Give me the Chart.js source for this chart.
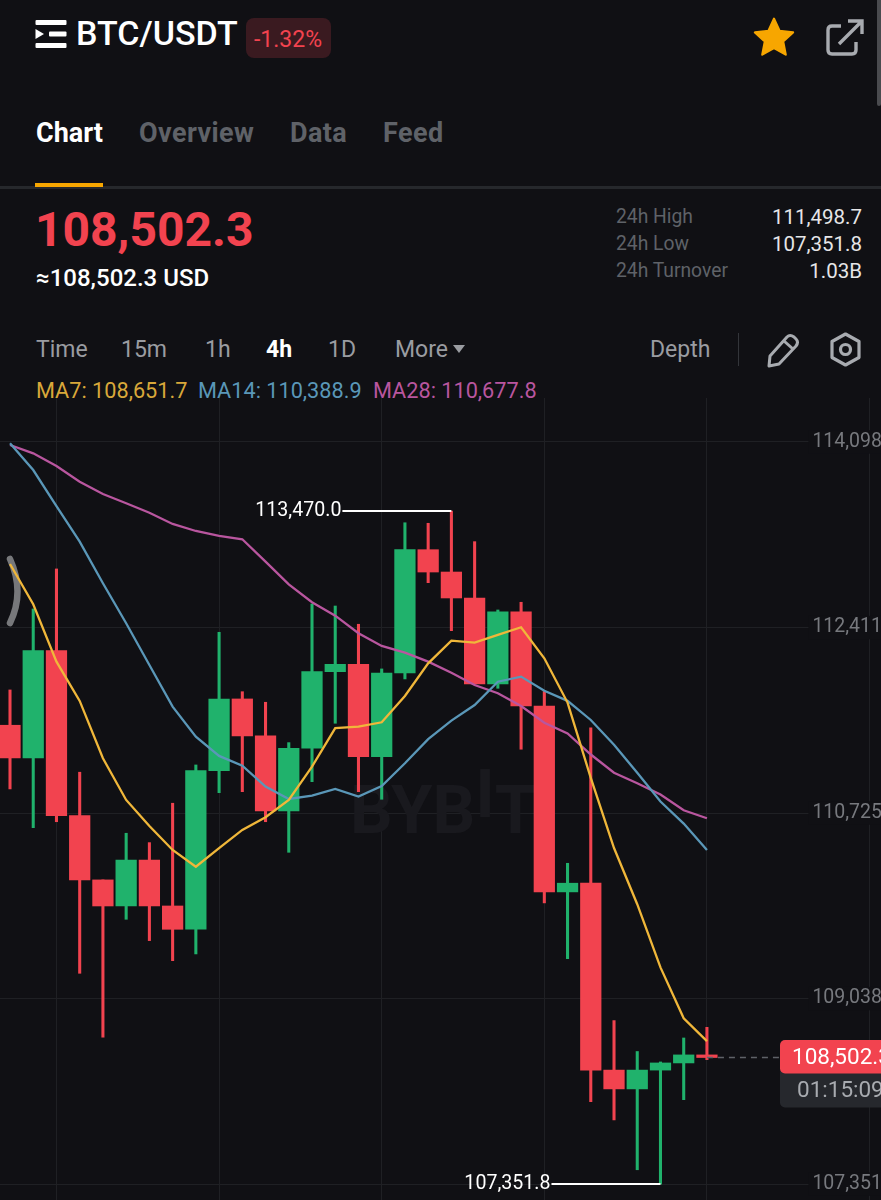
<!DOCTYPE html>
<html>
<head>
<meta charset="utf-8">
<script src="https://cdn.jsdelivr.net/npm/chart.js@4"></script>
<style>
  html, body { margin: 0; padding: 0; background: #101014; }
  body { width: 881px; height: 1200px; overflow: hidden; position: relative; font-family: Roboto, sans-serif; color: #fff; }
  .t { position: absolute; white-space: nowrap; line-height: 1; }
  .tab { font-size: 27px; font-weight: 700; letter-spacing: .4px; color: #5f6268; top: 120px; }
  .tf { font-size: 23px; color: #9a9ca1; top: 338px; }
  .ma { font-size: 21.7px; top: 380px; }
  #wrap { position: absolute; left: 0; top: 398px; width: 890px; height: 802px; }
</style>
</head>
<body>
<svg style="position:absolute;left:35px;top:20px" width="32" height="29" viewBox="0 0 32 29">
  <rect x="0.5" y="0" width="31" height="5" rx="1" fill="#fff"/>
  <rect x="14" y="11.5" width="17.5" height="5" rx="1" fill="#fff"/>
  <rect x="0.5" y="23" width="31" height="5" rx="1" fill="#fff"/>
  <path d="M0.5 9 L9 14 L0.5 19 Z" fill="#fff"/>
</svg>
<div class="t" style="left:76px;top:16px;font-size:34px;font-weight:500">BTC/USDT</div>
<div style="position:absolute;left:246px;top:18px;width:85px;height:40px;border-radius:8px;background:#3a1a20"></div>
<div class="t" style="left:254px;top:28px;font-size:23px;color:#f2434f">-1.32%</div>
<svg style="position:absolute;left:752px;top:15px" width="44" height="44" viewBox="0 0 24 24">
  <path d="M12 2 L15 8.6 L22.4 9.5 L17 14.4 L18.4 21.6 L12 18 L5.6 21.6 L7 14.4 L1.6 9.5 L9 8.6 Z" fill="#f7a600" stroke="#f7a600" stroke-width="1.2" stroke-linejoin="round"/>
</svg>
<svg style="position:absolute;left:824px;top:18px" width="42" height="40" viewBox="0 0 42 40" fill="none" stroke="#a8abb0" stroke-width="3.4">
  <path d="M17 8 H8 Q4 8 4 12 V32 Q4 36 8 36 H28 Q32 36 32 32 V24"/>
  <path d="M15 26 L37 4 M24 3 H38 V16"/>
</svg>
<div style="position:absolute;left:877px;top:0;width:4px;height:106px;border-radius:0 0 2px 2px;background:#4a4b4f"></div>
<div class="t tab" style="left:36px;color:#fff;letter-spacing:0">Chart</div>
<div class="t tab" style="left:139px">Overview</div>
<div class="t tab" style="left:290px">Data</div>
<div class="t tab" style="left:383px">Feed</div>
<div style="position:absolute;left:0;top:186px;width:881px;height:3px;background:#26282c"></div>
<div style="position:absolute;left:35px;top:183px;width:68px;height:4px;background:#f7a600"></div>
<div class="t" style="left:35px;top:206px;font-size:48px;font-weight:700;color:#f2434f">108,502.3</div>
<div class="t" style="left:36px;top:266px;font-size:24px;font-weight:500">≈108,502.3 USD</div>
<div class="t" style="left:616px;top:207px;font-size:19.3px;color:#5f6268">24h High</div>
<div class="t" style="left:616px;top:234px;font-size:19.3px;color:#5f6268">24h Low</div>
<div class="t" style="left:616px;top:261px;font-size:19.3px;color:#5f6268">24h Turnover</div>
<div class="t" style="right:19px;top:207px;font-size:20.5px;color:#e6e6e8">111,498.7</div>
<div class="t" style="right:19px;top:234px;font-size:20.5px;color:#e6e6e8">107,351.8</div>
<div class="t" style="right:19px;top:261px;font-size:20.5px;color:#e6e6e8">1.03B</div>
<div class="t tf" style="left:36px">Time</div>
<div class="t tf" style="left:121px">15m</div>
<div class="t tf" style="left:205px">1h</div>
<div class="t tf" style="left:266px;font-weight:700;color:#fff">4h</div>
<div class="t tf" style="left:328px">1D</div>
<div class="t tf" style="left:395px">More</div>
<svg style="position:absolute;left:452px;top:344px" width="14" height="10"><path d="M1 1 H13 L7 9 Z" fill="#9a9ca1"/></svg>
<div class="t tf" style="left:650px">Depth</div>
<div style="position:absolute;left:738px;top:333px;width:1px;height:33px;background:#33353a"></div>
<svg style="position:absolute;left:766px;top:332px" width="34" height="36" viewBox="0 0 34 36" fill="none" stroke="#a8abb0" stroke-width="3" stroke-linejoin="round">
  <path d="M4 24 L21 5 Q24 2 28 5 L30 7 Q33 10 30 14 L13 32 L3 34 Z"/>
  <path d="M18 9 L27 17"/>
</svg>
<svg style="position:absolute;left:828px;top:331px" width="35" height="37" viewBox="0 0 35 37" fill="none" stroke="#a8abb0" stroke-width="3.2" stroke-linejoin="round">
  <path d="M17.5 3 L31 10.5 V26.5 L17.5 34 L4 26.5 V10.5 Z"/>
  <circle cx="17.5" cy="18.5" r="5"/>
</svg>
<div class="t ma" style="left:36px;color:#d9a83a">MA7: 108,651.7</div>
<div class="t ma" style="left:198px;color:#5a97b8">MA14: 110,388.9</div>
<div class="t ma" style="left:373px;color:#b9569f">MA28: 110,677.8</div>
<svg style="position:absolute;left:6px;top:554px" width="20" height="76" viewBox="0 0 20 76"><path d="M4 5 Q19 38 4 69" fill="none" stroke="#77787b" stroke-width="6.5" stroke-linecap="round"/></svg>
<div id="wrap"><canvas id="c"></canvas></div>
<script>
// candles, one 4h bar each
const candleIdx = [0,1,2,3,4,5,6,7,8,9,10,11,12,13,14,15,16,17,18,19,20,21,22,23,24,25,26,27,28,29,30];
const opens  = [111523,111226,112201,110701,110117,109880,110298,109880,109668,111110,111762,111426,110744,111314,112010,112077,111237,111998,113119,112916,112680,111898,112555,111698,110008,110087,108388,108217,108388,108453,108526];
const highs  = [111844,112580,112944,111096,110117,110541,110456,110814,111162,112368,111828,111732,111365,112625,112607,112441,112035,113364,113359,113470,113192,112571,112641,111830,110268,111498.7,108838,108557,108462,108680,108777];
const lows   = [110944,110592,110646,109268,108687,109759,109565,109383,109444,110910,110919,110646,110368,111010,111541,110919,110850,111944,112819,112383,111898,111859,111305,109908,109401,108100,107935,107482,107351.8,108119,108483];
const closes = [111226,112201,110701,110117,109880,110298,109880,109668,111110,111762,111426,110744,111314,112010,112077,111237,111998,113119,112916,112680,111898,112555,111698,110008,110087,108388,108217,108388,108453,108526,108502.3];
const ma7  = [112989,112623,112101,111744,111223,110844,110607,110389,110237,110405,110571,110687,110844,111146,111496,111510,111550,111789,112086,112292,112274,112344,112414,112132,111729,111044,110407,109896,109322,108859,108651.7];
const ma14 = [114086,113843,113516,113192,112814,112450,112071,111692,111419,111244,111156,110965,110853,110883,110944,110874,110971,111177,111396,111565,111707,111919,111965,111837,111745,111571,111346,111091,110830,110629,110388.9];
const ma28 = [114071,113995,113880,113737,113625,113541,113455,113353,113289,113244,113214,113010,112804,112641,112519,112359,112244,112183,112101,112001,111889,111814,111698,111546,111448,111257,111091,110996,110894,110750,110677.8];
const yTicks = [114098,112411,110725,109038,107351];
const xGrid = [2,9,16,23,30,37];
const lastPrice = 108502.3;
const countdown = "01:15:09";
const highMark = { i: 19, price: 113470.0, text: "113,470.0" };
const lowMark  = { i: 28, price: 107351.8, text: "107,351.8" };

const UP = "#20b26c", DOWN = "#f2434f", BG = "#101014";
const candleColor = candleIdx.map(i => closes[i] >= opens[i] ? UP : DOWN);

function line(label, arr, color) {
  return { type: "line", label, data: candleIdx.map(i => ({ x: i, y: arr[i] })), borderColor: color,
    borderWidth: 2.3, pointRadius: 0, tension: 0, order: 0 };
}

// marks that the library has no element for: labels, last price tag, watermark
const overlay = {
  id: "overlay",
  beforeDatasetsDraw(chart) {
    const ctx = chart.ctx;
    ctx.save();
    ctx.fillStyle = "#19191e";
    ctx.font = "bold 67px Roboto";
    ctx.textAlign = "left";
    ctx.textBaseline = "alphabetic";
    let wx = 350;
    ctx.fillText("BYB", wx, 435);
    wx += ctx.measureText("BYB").width;
    ctx.fillText("I", wx, 419);
    wx += ctx.measureText("I").width;
    ctx.fillText("T", wx, 435);
    ctx.restore();
  },
  afterDatasetsDraw(chart) {
    const { ctx, scales: { x, y } } = chart;
    ctx.save();
    ctx.font = "19.6px Roboto";
    ctx.textBaseline = "middle";
    ctx.lineWidth = 2;
    ctx.strokeStyle = "#fff";
    ctx.fillStyle = "#fff";
    for (const m of [highMark, lowMark]) {
      const px = x.getPixelForValue(m.i), py = y.getPixelForValue(m.price);
      ctx.beginPath();
      ctx.moveTo(px, py);
      ctx.lineTo(px - 109, py);
      ctx.stroke();
      ctx.textAlign = "right";
      ctx.fillText(m.text, px - 110, py);
    }
    const ly = y.getPixelForValue(lastPrice), lx = x.getPixelForValue(30);
    ctx.setLineDash([6, 5]);
    ctx.strokeStyle = "#5f6268";
    ctx.lineWidth = 1.5;
    ctx.beginPath();
    ctx.moveTo(lx, ly);
    ctx.lineTo(780, ly);
    ctx.stroke();
    ctx.setLineDash([]);
    ctx.fillStyle = "#26282d";
    ctx.beginPath();
    ctx.roundRect(780, ly + 10, 110, 40, 5);
    ctx.fill();
    ctx.fillStyle = DOWN;
    ctx.beginPath();
    ctx.roundRect(780, ly - 17.5, 110, 33.5, 5);
    ctx.fill();
    ctx.font = "22.5px Roboto";
    ctx.textAlign = "left";
    ctx.fillStyle = "#fff";
    ctx.fillText(lastPrice.toLocaleString("en-US", { minimumFractionDigits: 1 }), 792, ly + 1);
    ctx.fillStyle = "#a8abb0";
    ctx.fillText(countdown, 797, ly + 34);
    ctx.restore();
  }
};

new Chart(document.getElementById("c"), {
  data: {
    datasets: [
      { type: "bar", label: "wick", data: candleIdx.map(i => ({ x: i, y: [lows[i], highs[i]] })),
        backgroundColor: candleColor, barThickness: 2.4, grouped: false, order: 2 },
      { type: "bar", label: "body", data: candleIdx.map(i => ({ x: i, y: [opens[i], closes[i]] })),
        backgroundColor: candleColor, barThickness: 20.6, grouped: false, order: 1, minBarLength: 2 },
      line("MA7", ma7, "#f0b73a"),
      line("MA14", ma14, "#5a97b8"),
      line("MA28", ma28, "#b9569f")
    ]
  },
  options: {
    responsive: true,
    maintainAspectRatio: false,
    animation: false,
    events: [],
    layout: { padding: 0 },
    plugins: { legend: { display: false }, tooltip: { enabled: false } },
    scales: {
      x: {
        type: "linear", min: -0.4305, max: 37.88, offset: false,
        grid: { color: "#1f2024", lineWidth: 1, drawTicks: false, offset: false },
        border: { display: false },
        ticks: { display: false },
        afterBuildTicks: s => { s.ticks = xGrid.map(v => ({ value: v })); },
        afterFit: s => { s.height = 0; s.paddingLeft = 0; s.paddingRight = 0; }
      },
      y: {
        position: "right", min: 107207, max: 114498,
        afterFit: s => { s.width = 0; s.paddingTop = 0; s.paddingBottom = 0; },
        grid: { color: "#1f2024", lineWidth: 1, drawTicks: false },
        border: { display: false },
        ticks: {
          mirror: true, padding: -8, color: "#77797e",
          font: { family: "Roboto", size: 19.5 },
          showLabelBackdrop: true, backdropColor: BG, backdropPadding: { left: 4, right: 0, top: 0, bottom: 0 },
          callback: v => v.toLocaleString("en-US")
        },
        afterBuildTicks: s => { s.ticks = yTicks.map(v => ({ value: v })); }
      }
    }
  },
  plugins: [overlay]
});
</script>
</body>
</html>
